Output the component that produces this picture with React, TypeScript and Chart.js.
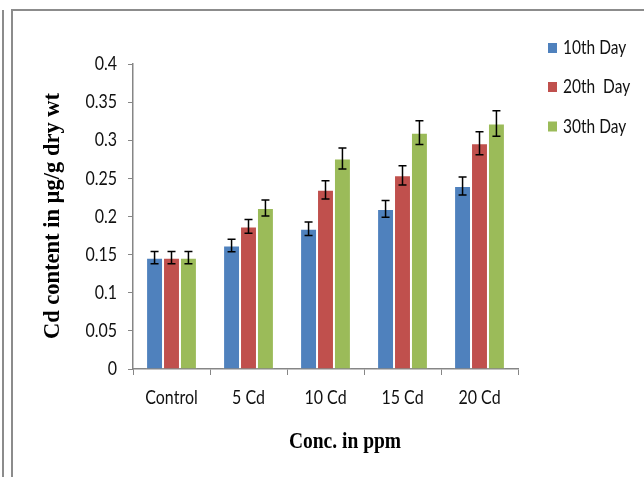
import React, { useEffect, useRef } from 'react';
import { Chart, registerables } from 'chart.js';

Chart.register(...registerables);

const categories = ['Control', '5 Cd', '10 Cd', '15 Cd', '20 Cd'];
const seriesNames = ['10th Day', '20th  Day', '30th Day'];
const day10 = [0.146, 0.162, 0.184, 0.21, 0.24];
const day20 = [0.146, 0.187, 0.235, 0.254, 0.296];
const day30 = [0.146, 0.211, 0.276, 0.31, 0.322];
const err10 = [0.008, 0.0083, 0.0088, 0.011, 0.0118];
const err20 = [0.008, 0.009, 0.012, 0.0127, 0.015];
const err30 = [0.008, 0.0105, 0.0138, 0.0157, 0.0166];
const yTicks = [0, 0.05, 0.1, 0.15, 0.2, 0.25, 0.3, 0.35, 0.4];
const seriesColors = ['#4F81BD', '#C0504D', '#9BBB59'];
const yTitle = 'Cd content in µg/g dry wt';
const xTitle = 'Conc. in ppm';

const TICK_FONT = 'Lato, sans-serif';
const TEXT_COLOR = '#111';
const AXIS_COLOR = '#868686';
const STRETCH = 1.2;

const fmt = (v: number) => String(Number(v.toFixed(2)));

const errorBarPlugin = {
  id: 'errorBars',
  afterDatasetsDraw(chart: any) {
    const ctx = chart.ctx;
    const ys = chart.scales.y;
    ctx.save();
    ctx.strokeStyle = '#000';
    ctx.lineWidth = 1.5;
    chart.data.datasets.forEach((ds: any, i: number) => {
      const meta = chart.getDatasetMeta(i);
      meta.data.forEach((bar: any, j: number) => {
        const v = ds.data[j];
        const e = ds.errors[j];
        const top = ys.getPixelForValue(v + e);
        const bot = ys.getPixelForValue(v - e);
        const x = bar.x;
        ctx.beginPath();
        ctx.moveTo(x, top);
        ctx.lineTo(x, bot);
        ctx.moveTo(x - 4, top);
        ctx.lineTo(x + 4, top);
        ctx.moveTo(x - 4, bot);
        ctx.lineTo(x + 4, bot);
        ctx.stroke();
      });
    });
    ctx.restore();
  },
};

function stretchedText(ctx: any, text: string, x: number, y: number, align: string) {
  ctx.save();
  ctx.translate(x, y);
  ctx.scale(1, STRETCH);
  ctx.textAlign = align;
  ctx.textBaseline = 'middle';
  ctx.fillText(text, 0, 0);
  ctx.restore();
}

const decorPlugin = {
  id: 'decor',
  afterDraw(chart: any) {
    const ctx = chart.ctx;
    ctx.save();
    ctx.fillStyle = TEXT_COLOR;
    ctx.font = `16px ${TICK_FONT}`;
    // x tick labels
    const xs = chart.scales.x;
    xs.ticks.forEach((t: any, i: number) => {
      stretchedText(ctx, String(xs.getLabelForValue(t.value)), xs.getPixelForTick(i), 398, 'center');
    });
    // y tick labels
    const ys = chart.scales.y;
    ys.ticks.forEach((t: any) => {
      stretchedText(ctx, fmt(t.value), 117, ys.getPixelForValue(t.value), 'right');
    });
    // legend
    const centers = [48, 87, 126.5];
    chart.data.datasets.forEach((ds: any, i: number) => {
      const cy = centers[i];
      ctx.fillStyle = ds.backgroundColor;
      ctx.fillRect(548, cy - 5, 9, 10);
      ctx.fillStyle = TEXT_COLOR;
      ctx.font = `15.5px ${TICK_FONT}`;
      stretchedText(ctx, ds.label, 563, cy, 'left');
    });
    // x title
    ctx.fillStyle = '#000';
    ctx.font = 'bold 19.5px "Liberation Serif"';
    stretchedText(ctx, xTitle, 345, 442, 'center');
    // y title
    ctx.translate(53, 216);
    ctx.rotate(-Math.PI / 2);
    ctx.font = 'bold 22.5px "Liberation Serif"';
    ctx.textAlign = 'center';
    ctx.textBaseline = 'middle';
    ctx.fillText(yTitle, 0, 0);
    ctx.restore();
  },
};

export default function App() {
  const ref = useRef<HTMLCanvasElement | null>(null);

  useEffect(() => {
    document.body.style.margin = '0';
    const canvas = ref.current;
    if (!canvas) return;
    const values = [day10, day20, day30];
    const errors = [err10, err20, err30];
    const chart = new Chart(canvas, {
      type: 'bar',
      data: {
        labels: categories,
        datasets: seriesNames.map((name, i) => ({
          label: name,
          data: values[i],
          errors: errors[i],
          backgroundColor: seriesColors[i],
          borderColor: 'rgba(255,255,255,0.35)',
          borderWidth: 1,
          categoryPercentage: 0.66,
          barPercentage: 1,
        })) as any,
      },
      options: {
        animation: false,
        responsive: false,
        maintainAspectRatio: false,
        layout: { padding: { left: 0, top: 64, right: 126, bottom: 0 } },
        plugins: {
          legend: { display: false },
          tooltip: { enabled: false },
          title: { display: false },
        },
        scales: {
          x: {
            afterFit: (s: any) => {
              s.height = 108;
            },
            grid: {
              display: true,
              drawOnChartArea: false,
              drawTicks: true,
              tickLength: 6,
              color: AXIS_COLOR,
              offset: true,
            },
            border: { display: true, color: AXIS_COLOR, width: 1.5 },
            ticks: { display: false, autoSkip: false },
          },
          y: {
            min: 0,
            max: 0.4,
            afterFit: (s: any) => {
              s.width = 133;
            },
            afterBuildTicks: (s: any) => {
              s.ticks = yTicks.map((v) => ({ value: v }));
            },
            grid: {
              display: true,
              drawOnChartArea: false,
              drawTicks: true,
              tickLength: 5,
              color: AXIS_COLOR,
            },
            border: { display: true, color: AXIS_COLOR, width: 1.5 },
            ticks: { display: false },
          },
        },
      },
      plugins: [errorBarPlugin, decorPlugin],
    });
    return () => chart.destroy();
  }, []);

  const line = '#8c8c8c';
  return (
    <div style={{ position: 'relative', width: 644, height: 477, overflow: 'hidden', background: '#fff' }}>
      <div style={{ position: 'absolute', left: 2, top: 10, width: 2, height: 467, background: line }} />
      <div style={{ position: 'absolute', left: 11, top: 9, width: 633, height: 2, background: line }} />
      <div style={{ position: 'absolute', left: 11, top: 9, width: 2, height: 468, background: line }} />
      <canvas ref={ref} width={644} height={477} style={{ position: 'absolute', left: 0, top: 0 }} />
    </div>
  );
}
